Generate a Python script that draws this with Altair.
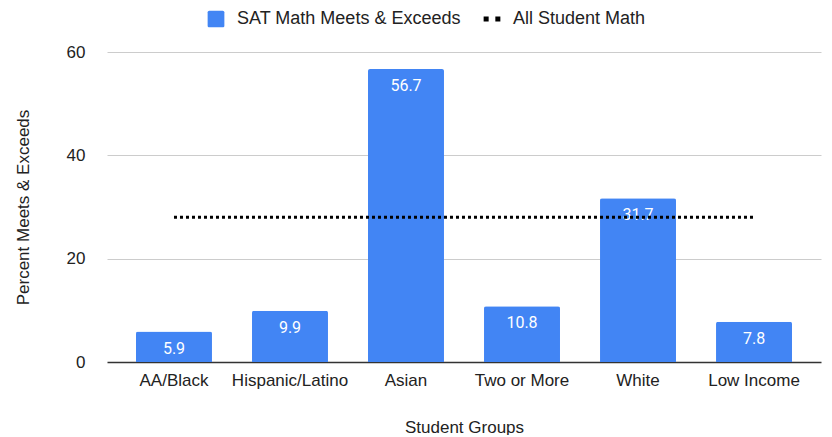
import altair as alt
import pandas as pd

groups = ["AA/Black", "Hispanic/Latino", "Asian", "Two or More", "White", "Low Income"]
sat_math = [5.9, 9.9, 56.7, 10.8, 31.7, 7.8]
all_student_math = [28.0] * len(groups)
series_names = ["SAT Math Meets & Exceeds", "All Student Math"]
series_colors = ["#4285F4", "#000000"]

bars_df = pd.DataFrame({"group": groups, "value": sat_math})
line_df = pd.DataFrame({"group": groups, "value": all_student_math})
# legend carrier points sit hidden behind the tallest bar
legend_df = pd.DataFrame({"group": [groups[2], groups[2]], "value": [20, 20], "series": series_names})

FONT = "Liberation Sans"
LFONT = "Roboto"

x_enc = alt.X(
    "group:N",
    sort=groups,
    title="Student Groups",
    scale=alt.Scale(paddingInner=0.345, paddingOuter=0.25, range=[10, 724]),
    axis=alt.Axis(
        labelAngle=0, labelFontSize=17, labelColor="#222222", labelFont=FONT,
        labelPadding=10, ticks=False, domain=False,
        titleFontSize=17, titleFont=FONT, titleColor="#222222", titleFontWeight="normal",
        titlePadding=31,
    ),
)
y_enc = alt.Y(
    "value:Q",
    scale=alt.Scale(domain=[0, 60]),
    axis=alt.Axis(
        values=[0, 20, 40, 60], labelFontSize=17, labelColor="#222222", labelFont=FONT,
        labelPadding=12, ticks=False, domain=False,
        gridColor={"condition": {"test": "datum.value === 0", "value": "#333333"}, "value": "#cccccc"},
        gridWidth={"condition": {"test": "datum.value === 0", "value": 1.5}, "value": 1},
        title="Percent Meets & Exceeds", titleFontSize=17, titleFont=FONT,
        titleColor="#222222", titleFontWeight="normal", titlePadding=34,
    ),
)

rounded_square = (
    "M-0.8,-1H0.8A0.2,0.2 0 0 1 1,-0.8V0.8A0.2,0.2 0 0 1 0.8,1"
    "H-0.8A0.2,0.2 0 0 1 -1,0.8V-0.8A0.2,0.2 0 0 1 -0.8,-1Z"
)
two_dots = "M-1,-0.3H-0.4V0.3H-1Z M0.4,-0.3H1V0.3H0.4Z"

color_scale = alt.Scale(domain=series_names, range=series_colors)
shape_scale = alt.Scale(domain=series_names, range=[rounded_square, two_dots])

legend_layer = alt.Chart(legend_df).mark_point(filled=True, opacity=1, size=20).encode(
    x=x_enc,
    y=y_enc,
    color=alt.Color(
        "series:N", scale=color_scale, sort=series_names,
        legend=alt.Legend(
            title=None, orient="none", direction="horizontal",
            legendX=110, legendY=-42, labelFontSize=18, labelFont=FONT,
            labelColor="#222222", symbolSize=280, symbolOpacity=1,
            columnPadding=22, labelOffset=12, symbolStrokeWidth=0, labelLimit=0,
        ),
    ),
    shape=alt.Shape("series:N", scale=shape_scale, sort=series_names),
)

bars = alt.Chart(bars_df).mark_bar(
    cornerRadiusTopLeft=2, cornerRadiusTopRight=2, color=series_colors[0]
).encode(
    x=x_enc,
    y=y_enc,
)

labels = alt.Chart(bars_df).mark_text(
    color="white", fontSize=16, font=LFONT, baseline="middle", dy=17
).encode(
    x=x_enc,
    y=y_enc,
    text=alt.Text("value:Q", format=".1f"),
)

line = alt.Chart(line_df).mark_line(
    strokeDash=[3, 3], strokeWidth=3, color=series_colors[1]
).encode(
    x=x_enc,
    y=y_enc,
)

chart = alt.layer(legend_layer, bars, labels, line).properties(
    width=727, height=310,
    padding={"left": 6, "top": 2, "right": 0, "bottom": 0},
).configure_view(stroke=None)

chart.save("out.html", embed_options={"renderer": "svg", "actions": False})
